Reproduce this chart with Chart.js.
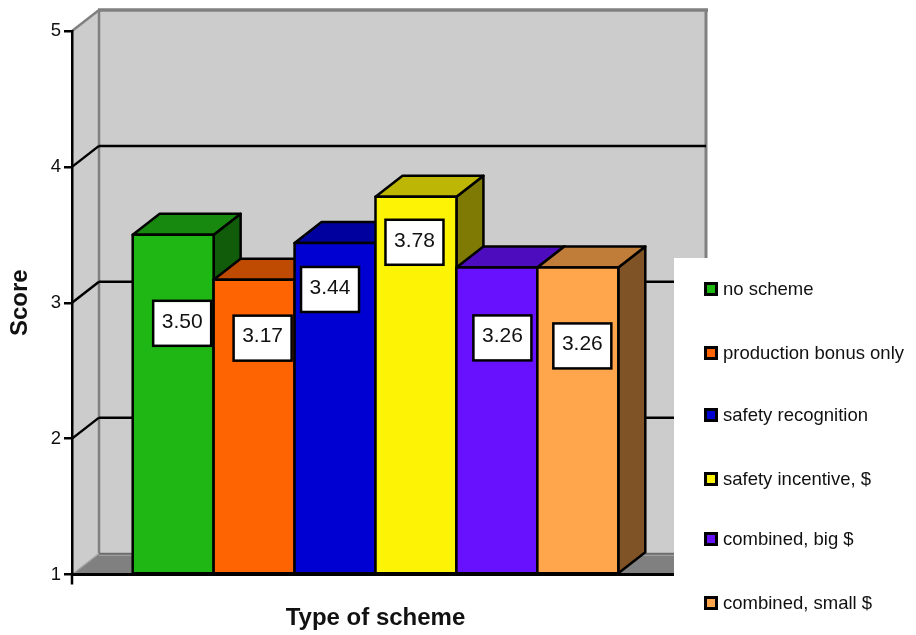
<!DOCTYPE html>
<html>
<head>
<meta charset="utf-8">
<title>Score by type of scheme</title>
<style>
  html, body { margin: 0; padding: 0; background: #ffffff; }
  canvas { display: block; }
</style>
<script src="https://cdn.jsdelivr.net/npm/chart.js@4/dist/chart.umd.min.js"></script>
</head>
<body>
<canvas id="chart" width="916" height="635"></canvas>
<script>
// Chart content
const schemes = ['no scheme', 'production bonus only', 'safety recognition',
                 'safety incentive, $', 'combined, big $', 'combined, small $'];
const scores = [3.50, 3.17, 3.44, 3.78, 3.26, 3.26];
const scoreText = ['3.50', '3.17', '3.44', '3.78', '3.26', '3.26'];
const schemeColors = ['#1fb714', '#ff6403', '#0000d3', '#fcf305', '#6711ff', '#ffa64c'];
const yTicks = [1, 2, 3, 4, 5];
const groupLabel = ['Score by scheme'];

// Drawing constants for the extruded look
const DEPTH_X = 27, DEPTH_Y = 21;
const FONT = '"Liberation Sans", Arial, sans-serif';
const WALL = '#cccccc', EDGE = '#808080', INK = '#000000';
const LINE = 2.5;
const labelShift = [[9, 88], [8.5, 58], [-5, 46], [-1.5, 45], [5.5, 70], [4.5, 78]];
const legendRows = [289, 353, 415, 479, 539, 603];
const legendPanel = { left: 674, top: 258 };

function shade(hex, f) {
  const n = parseInt(hex.slice(1), 16);
  const c = [n >> 16 & 255, n >> 8 & 255, n & 255].map(v => Math.round(v * f));
  return `rgb(${c[0]},${c[1]},${c[2]})`;
}

function poly(ctx, pts, fill, stroke, lw) {
  ctx.beginPath();
  pts.forEach((p, i) => i ? ctx.lineTo(p[0], p[1]) : ctx.moveTo(p[0], p[1]));
  ctx.closePath();
  if (fill) { ctx.fillStyle = fill; ctx.fill(); }
  if (stroke) { ctx.strokeStyle = stroke; ctx.lineWidth = lw; ctx.lineJoin = 'round'; ctx.stroke(); }
}

function line(ctx, x1, y1, x2, y2, color, lw) {
  ctx.beginPath(); ctx.moveTo(x1, y1); ctx.lineTo(x2, y2);
  ctx.strokeStyle = color; ctx.lineWidth = lw; ctx.lineCap = 'butt'; ctx.stroke();
}

// Back wall, side wall, floor and the gridlines that run along them
const roomPlugin = {
  id: 'room',
  beforeDraw(chart) {
    const { ctx, chartArea: a, scales: { y } } = chart;
    const top = y.getPixelForValue(y.max), floor = y.getPixelForValue(y.min);
    const bx = a.left + DEPTH_X, br = a.right + DEPTH_X;
    ctx.save();
    poly(ctx, [[bx, top - DEPTH_Y], [br, top - DEPTH_Y], [br, floor - DEPTH_Y], [bx, floor - DEPTH_Y]], WALL);
    poly(ctx, [[a.left, top], [bx, top - DEPTH_Y], [bx, floor - DEPTH_Y], [a.left, floor]], WALL);
    poly(ctx, [[a.left, floor], [bx, floor - DEPTH_Y], [br, floor - DEPTH_Y], [a.right, floor]], EDGE);

    line(ctx, bx - 1, top - DEPTH_Y, br + 2, top - DEPTH_Y, EDGE, 3.5);
    line(ctx, br, top - DEPTH_Y, br, floor - DEPTH_Y, EDGE, 3);
    line(ctx, bx, top - DEPTH_Y, bx, floor - DEPTH_Y, EDGE, 2.5);
    line(ctx, a.left, top, bx, top - DEPTH_Y, EDGE, 2.5);
    line(ctx, a.left, floor, bx, floor - DEPTH_Y, '#a6a6a6', 1.5);
    line(ctx, bx, floor - DEPTH_Y, br, floor - DEPTH_Y, '#6e6e6e', 1.5);
    line(ctx, bx, floor - DEPTH_Y + 2, br, floor - DEPTH_Y + 2, '#a0a0a0', 1);

    yTicks.filter(v => v > y.min && v < y.max).forEach(v => {
      const py = y.getPixelForValue(v);
      line(ctx, a.left, py, bx, py - DEPTH_Y, INK, LINE);
      line(ctx, bx, py - DEPTH_Y, br, py - DEPTH_Y, INK, LINE);
    });
    // Short tick below the origin
    line(ctx, a.left, floor, a.left, floor + 10, INK, LINE);
    ctx.restore();
  }
};

// Bars are painted left to right so each one overlaps the faces of its left neighbour
const prismPlugin = {
  id: 'prism',
  beforeDatasetsDraw(chart) {
    const { ctx } = chart;
    ctx.save();
    chart.data.datasets.forEach((ds, i) => {
      const meta = chart.getDatasetMeta(i);
      const b = meta.data[0].getProps(['x', 'y', 'base', 'width']);
      const l = b.x - b.width / 2, r = b.x + b.width / 2;
      poly(ctx, [[r, b.y], [r + DEPTH_X, b.y - DEPTH_Y], [r + DEPTH_X, b.base - DEPTH_Y], [r, b.base]],
        shade(ds.backgroundColor, 0.5), INK, LINE);
      poly(ctx, [[l, b.y], [l + DEPTH_X, b.y - DEPTH_Y], [r + DEPTH_X, b.y - DEPTH_Y], [r, b.y]],
        shade(ds.backgroundColor, 0.75), INK, LINE);
      meta.controller.draw();
      ctx.strokeStyle = INK;
      ctx.lineWidth = LINE;
      ctx.strokeRect(l, b.y, b.width, b.base - b.y);
    });
    ctx.restore();
  },
  beforeDatasetDraw() {
    return false;
  }
};

// Boxed value labels and the legend panel at the lower right
const annotationPlugin = {
  id: 'annotations',
  afterDatasetsDraw(chart) {
    const { ctx } = chart;
    ctx.save();
    chart.data.datasets.forEach((ds, i) => {
      const b = chart.getDatasetMeta(i).data[0];
      const cx = b.x + labelShift[i][0], cy = b.y + labelShift[i][1];
      ctx.fillStyle = '#ffffff';
      ctx.fillRect(cx - 29, cy - 22, 58, 45);
      ctx.strokeStyle = INK; ctx.lineWidth = LINE;
      ctx.strokeRect(cx - 29, cy - 22, 58, 45);
      ctx.fillStyle = '#111111';
      ctx.font = `21px ${FONT}`;
      ctx.textAlign = 'center'; ctx.textBaseline = 'middle';
      ctx.fillText(scoreText[i], cx, cy - 1);
    });

    ctx.fillStyle = '#ffffff';
    ctx.fillRect(legendPanel.left, legendPanel.top, chart.width - legendPanel.left, chart.height - legendPanel.top);

    chart.data.datasets.forEach((ds, i) => {
      const y = legendRows[i];
      ctx.fillStyle = ds.backgroundColor;
      ctx.fillRect(705.5, y - 5.5, 11, 11);
      ctx.strokeStyle = INK; ctx.lineWidth = 3;
      ctx.strokeRect(705.5, y - 5.5, 11, 11);
      ctx.fillStyle = '#111111';
      ctx.font = `18.5px ${FONT}`;
      ctx.textAlign = 'left'; ctx.textBaseline = 'middle';
      ctx.fillText(ds.label, 723, y + 1);
    });
    ctx.restore();
  }
};

new Chart(document.getElementById('chart'), {
  type: 'bar',
  data: {
    labels: groupLabel,
    datasets: schemes.map((name, i) => ({
      label: name,
      data: [scores[i]],
      base: yTicks[0],
      backgroundColor: schemeColors[i],
      borderWidth: 0,
      inflateAmount: 0,
      categoryPercentage: 0.8,
      barPercentage: 1
    }))
  },
  options: {
    responsive: false,
    animation: false,
    devicePixelRatio: 1,
    layout: { padding: { left: 0, right: 237, top: 31, bottom: 0 } },
    plugins: { legend: { display: false }, title: { display: false }, tooltip: { enabled: false } },
    scales: {
      x: {
        offset: true,
        afterFit(s) { s.height = 60.5; },
        grid: { display: false, drawTicks: false },
        border: { display: true, color: INK, width: 3 },
        ticks: { display: false },
        title: {
          display: true, text: 'Type of scheme', color: '#111111',
          font: { family: FONT, size: 24, weight: 'bold' },
          padding: { top: 20, bottom: 2 }
        }
      },
      y: {
        min: 1, max: 5,
        afterFit(s) { s.width = 72; },
        afterBuildTicks(s) { s.ticks = yTicks.map(v => ({ value: v })); },
        grid: { drawOnChartArea: false, drawTicks: true, tickLength: 8, color: INK, lineWidth: 2.5 },
        border: { display: true, color: INK, width: 2.5 },
        ticks: { color: '#111111', font: { family: FONT, size: 18.5 }, padding: 3, callback: v => String(v) },
        title: {
          display: true, text: 'Score', color: '#111111',
          font: { family: FONT, size: 24, weight: 'bold' },
          padding: { top: 6, bottom: 0 }
        }
      }
    }
  },
  plugins: [roomPlugin, prismPlugin, annotationPlugin]
});
</script>
</body>
</html>
